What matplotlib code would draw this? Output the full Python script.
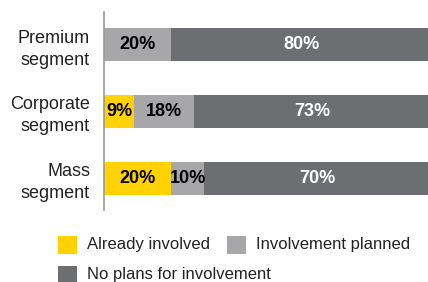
import matplotlib.pyplot as plt
from matplotlib.patches import Rectangle

plt.rcParams['font.family'] = ['Liberation Sans', 'DejaVu Sans']

segments = ['Premium\nsegment', 'Corporate\nsegment', 'Mass\nsegment']
already = [0, 9, 20]
planned = [20, 18, 10]
no_plans = [80, 73, 70]
series_names = ['Already involved', 'Involvement planned', 'No plans for involvement']

yellow = '#FFD200'
light = '#A7A7AA'
dark = '#6D6E71'

fig = plt.figure(figsize=(4.28, 2.82), dpi=100)
ax = fig.add_axes([104 / 428, 1 - 210 / 282, 1 - 104 / 428, 198 / 282])

xmax = 97
pos = list(range(len(segments)))
h = 0.494

left = [0] * len(segments)
for vals, col, tc in [(already, yellow, 'black'), (planned, light, 'black'), (no_plans, dark, 'white')]:
    ax.barh(pos, vals, left=left, height=h, color=col, linewidth=0)
    for i, v in enumerate(vals):
        if v == 0:
            continue
        right = min(left[i] + v, xmax + 1)
        ax.text((left[i] + right) / 2, pos[i], f'{v}%', ha='center', va='center',
                fontsize=13, fontweight='bold', color=tc)
    left = [l + v for l, v in zip(left, vals)]

ax.set_xlim(0, xmax)
ax.set_ylim(2.479, -0.487)
ax.set_yticks(pos)
ax.set_yticklabels(segments, fontsize=13, color='#222222', linespacing=1.4)
ax.tick_params(axis='y', length=0, pad=10)
ax.set_xticks([])
for s in ['top', 'right', 'bottom']:
    ax.spines[s].set_visible(False)
ax.spines['left'].set_color('#999999')
ax.spines['left'].set_linewidth(1.2)

# legend drawn by hand
W, H = 428, 282
items = [(series_names[0], yellow, 58, 245), (series_names[1], light, 227, 245),
         (series_names[2], dark, 58, 275)]
for name, col, x, yc in items:
    fig.add_artist(Rectangle((x / W, 1 - (yc + 9) / H), 19 / W, 18 / H,
                             transform=fig.transFigure, color=col, lw=0))
    fig.text((x + 29) / W, 1 - yc / H, name, ha='left', va='center',
             fontsize=12, color='#222222')

fig.savefig('out.png', dpi=100)
